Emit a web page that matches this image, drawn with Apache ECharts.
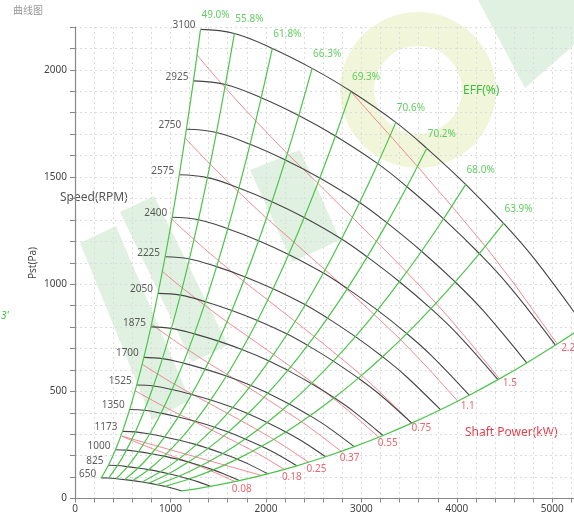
<!DOCTYPE html>
<html><head><meta charset="utf-8">
<script src="https://cdn.jsdelivr.net/npm/echarts@6/dist/echarts.min.js"></script>
<style>html,body{margin:0;padding:0;background:#fff}#c{width:574px;height:518px}</style>
</head><body><div id="c"></div>
<script>
// ---- data ----
const speeds = [650, 825, 1000, 1173, 1350, 1525, 1700, 1875, 2050, 2225, 2400, 2575, 2750, 2925, 3100];
const baseSpeed = 3100;
// 3100 rpm curve (flow m3/h, static pressure Pa)
const baseFlow = [1315, 1670, 2067, 2484, 2891, 3361, 3685, 4092, 4489, 4823, 5334];
const basePst  = [2189, 2170, 2100, 2007, 1900, 1755, 1634, 1466, 1284, 1112, 804];
// shaft power along the 3100 rpm curve (kW)
const basePower = [1.632, 1.804, 1.951, 2.089, 2.202, 2.321, 2.383, 2.451, 2.506, 2.55, 2.59];
// efficiency lines: which point of the curve they pass and their labels
const effIndex  = [0, 1, 2, 3, 4, 5, 6, 7, 8, 10];
const effLabels = ['49.0%', '55.8%', '61.8%', '66.3%', '69.3%', '70.6%', '70.2%', '68.0%', '63.9%', ''];
// shaft power lines (kW)
const powerLevels = [0.08, 0.18, 0.25, 0.37, 0.55, 0.75, 1.1, 1.5, 2.2];
const powerLabels = ['0.08', '0.18', '0.25', '0.37', '0.55', '0.75', '1.1', '1.5', '2.2'];
// axis ticks
const xLabelTicks = [0, 1000, 2000, 3000, 4000, 5000];
const yLabelTicks = [0, 500, 1000, 1500, 2000];

// ---- build ----
const FONT = 'Noto Sans';
function scalePt(q, p, n) { const r = n / baseSpeed; return [q * r, p * r * r]; }
function onBaseAtPower(target) {
  for (let i = 0; i < basePower.length - 1; i++) {
    if (target >= basePower[i] && target <= basePower[i + 1]) {
      const t = (target - basePower[i]) / (basePower[i + 1] - basePower[i]);
      return [baseFlow[i] + t * (baseFlow[i + 1] - baseFlow[i]), basePst[i] + t * (basePst[i + 1] - basePst[i])];
    }
  }
  return [baseFlow[baseFlow.length - 1], basePst[basePst.length - 1]];
}
const series = [];
// speed curves
speeds.forEach(n => {
  series.push({
    type: 'line', silent: true, showSymbol: false, smooth: 0.4, z: 3,
    data: baseFlow.map((q, i) => scalePt(q, basePst[i], n)),
    lineStyle: { color: '#454545', width: 1.1 }
  });
});
// speed labels
series.push({
  type: 'scatter', silent: true, symbolSize: 0.1, z: 6,
  itemStyle: { color: 'rgba(0,0,0,0)' },
  data: speeds.map(n => ({ value: scalePt(baseFlow[0], basePst[0], n), name: String(n) })),
  label: { show: true, position: 'left', distance: 5, offset: [0, -4], formatter: p => p.name,
           color: '#333', fontSize: 10, fontFamily: FONT }
});
// power lines
const pEnd = basePower[basePower.length - 1];
const powerEnds = [];
powerLevels.forEach((W, k) => {
  const nEnd = baseSpeed * Math.cbrt(W / pEnd);
  const nTop = W <= basePower[0] ? baseSpeed * Math.cbrt(W / basePower[0]) : baseSpeed;
  const pts = [];
  const steps = 40;
  for (let s = 0; s <= steps; s++) {
    const n = nTop + (nEnd - nTop) * s / steps;
    const r = baseSpeed / n;
    const qp = onBaseAtPower(W * r * r * r);
    pts.push(scalePt(qp[0], qp[1], n));
  }
  powerEnds.push(pts[pts.length - 1]);
  series.push({
    type: 'line', silent: true, showSymbol: false, smooth: false, z: 2,
    data: pts, lineStyle: { color: 'rgba(236,110,120,0.8)', width: 1 }
  });
});
series.push({
  type: 'scatter', silent: true, symbolSize: 0.1, z: 6,
  itemStyle: { color: 'rgba(0,0,0,0)' },
  data: powerEnds.map((v, k) => {
    const t = k / (powerEnds.length - 1);
    return { value: v, name: powerLabels[k],
      label: { position: [7 + 4 * t, 8 - 4 * t] } };
  }),
  label: { show: true, formatter: p => p.name, align: 'center', verticalAlign: 'middle',
           color: '#e5404e', fontSize: 10, fontFamily: FONT }
});
// efficiency lines
effIndex.forEach((i, k) => {
  series.push({
    type: 'line', silent: true, showSymbol: false, smooth: 0.3, z: 4,
    data: speeds.map(n => scalePt(baseFlow[i], basePst[i], n)),
    lineStyle: { color: '#4cc44c', width: 1.2 }
  });
});
series.push({
  type: 'scatter', silent: true, symbolSize: 0.1, z: 6,
  itemStyle: { color: 'rgba(0,0,0,0)' },
  data: effIndex.map((i, k) => ({ value: [baseFlow[i], basePst[i]], name: effLabels[k] })),
  label: { show: true, position: [1, -19], formatter: p => p.name,
           color: '#3cc03c', fontSize: 10, fontFamily: FONT }
});

const wm = 'rgba(120,190,120,0.22)';
const option = {
  animation: false,
  backgroundColor: '#fff',
  grid: { left: 75, top: 27, width: 515.5, height: 471.5, containLabel: false, outerBoundsMode: 'none' },
  xAxis: {
    type: 'value', min: 0, max: 5400, interval: 200,
    axisLine: { show: true, onZero: false, lineStyle: { color: '#888', width: 1 } },
    axisTick: { show: true, length: 4, lineStyle: { color: '#888' } },
    axisLabel: { formatter: v => xLabelTicks.includes(v) ? String(v) : '', color: '#444', fontSize: 10, fontFamily: FONT, margin: 6 },
    splitLine: { show: true, lineStyle: { type: [2, 3], color: '#dcdcdc', width: 1 } }
  },
  yAxis: {
    type: 'value', min: 0, max: 2200, interval: 100,
    axisLine: { show: true, onZero: false, lineStyle: { color: '#888', width: 1.2 } },
    axisTick: { show: true, length: 5, lineStyle: { color: '#888' } },
    axisLabel: { formatter: v => yLabelTicks.includes(v) ? String(v) : '', color: '#444', fontSize: 10, fontFamily: FONT, margin: 8 },
    splitLine: { show: true, lineStyle: { type: [2, 3], color: '#dcdcdc', width: 1 } }
  },
  graphic: { elements: [
    { type: 'ring', z: -1, shape: { cx: 418, cy: 90, r: 78, r0: 44 }, style: { fill: 'rgba(215,230,150,0.35)' } },
    { type: 'polygon', z: -1, shape: { points: [[80, 243], [116, 226], [190, 400], [152, 420]] }, style: { fill: wm } },
    { type: 'polygon', z: -1, shape: { points: [[120, 212], [154, 196], [228, 345], [192, 362]] }, style: { fill: wm } },
    { type: 'polygon', z: -1, shape: { points: [[250, 170], [300, 150], [340, 240], [292, 262]] }, style: { fill: wm } },
    { type: 'polygon', z: -1, shape: { points: [[478, 0], [574, 0], [574, 45], [525, 88]] }, style: { fill: wm } },
    { type: 'text', left: 13, top: 5, style: { text: '曲线图', fill: '#999', font: '10px "Noto Sans CJK SC"' } },
    { type: 'text', left: 60, top: 192, style: { text: 'Speed(RPM)', fill: '#555', font: '12px "Noto Sans"' } },
    { type: 'text', left: 463, top: 85, style: { text: 'EFF(%)', fill: '#3cc03c', font: '12px "Noto Sans"' } },
    { type: 'text', left: 465, top: 427, style: { text: 'Shaft Power(kW)', fill: '#e5404e', font: '12px "Noto Sans"' } },
    { type: 'text', left: 1, top: 311, style: { text: "3'", fill: '#3cc03c', font: 'italic 10px "Noto Sans"' } },
    { type: 'text', x: 33, y: 263, rotation: Math.PI / 2, style: { text: 'Pst(Pa)', fill: '#444', font: '10px "Noto Sans"', align: 'center', verticalAlign: 'middle' } }
  ] },
  series: series
};
const chart = echarts.init(document.getElementById('c'));
chart.setOption(option);
</script>
</body></html>
